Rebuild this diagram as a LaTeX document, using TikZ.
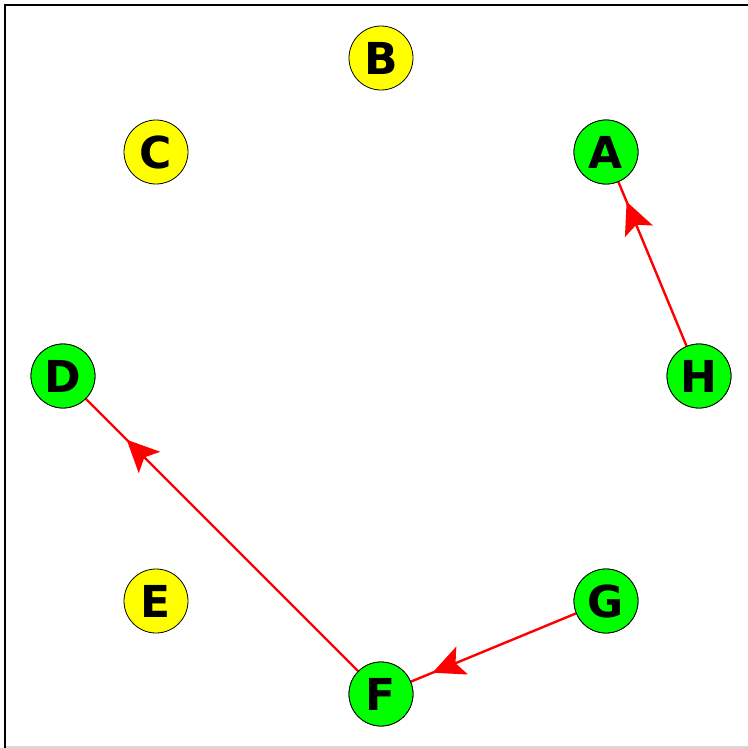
\documentclass[tikz,border=0pt]{standalone}
\usepackage{fontspec}
\setmainfont{DejaVu Sans}
\usetikzlibrary{arrows.meta, decorations.markings}
\definecolor{gVisited}{HTML}{00FF00}
\definecolor{gOpen}{HTML}{FFFF00}
\definecolor{gEdge}{HTML}{FF0000}
\tikzset{
  vertex/.style={
    draw=black, circle, line width=0.8pt, minimum size=64pt, inner sep=0pt,
    font=\fontsize{44}{44}\selectfont\bfseries
  },
  seen/.style={vertex, fill=gVisited},
  unseen/.style={vertex, fill=gOpen},
  link/.style={
    draw=gEdge, line width=2.4pt,
    postaction={decorate, decoration={markings,
      mark=at position #1 with {\arrow{Stealth[length=32pt, width=30pt, inset=7pt]}}}}
  },
  link/.default=0.85
}

\begin{document}
\begin{tikzpicture}[x=1pt, y=-1pt]
  \useasboundingbox (0,0) rectangle (748,748);
  \fill[white] (0,0) rectangle (748,748);
  % frame
  \draw[black, line width=2.5pt] (5,748) -- (5,5) -- (748,5);
  \draw[black!15, line width=1.5pt] (6,747) -- (748,747);

  % edges first, circles on top
  \coordinate (pA) at (606,152);
  \coordinate (pD) at (63,376);
  \coordinate (pF) at (381,694);
  \coordinate (pG) at (606,601);
  \coordinate (pH) at (699,376);

  \node[seen] (A) at (pA) {A};
  \node[unseen] (B) at (381,58) {B};
  \node[unseen] (C) at (156,152) {C};
  \node[seen] (D) at (pD) {D};
  \node[unseen] (E) at (156,601) {E};
  \node[seen] (F) at (pF) {F};
  \node[seen] (G) at (pG) {G};
  \node[seen] (H) at (pH) {H};

  \draw[link=0.85] (F) -- (D);
  \draw[link=0.88] (H) -- (A);
  \draw[link=0.87] (G) -- (F);

  % redraw circles over edge ends
  \node[seen] at (pA) {A};
  \node[seen] at (pD) {D};
  \node[seen] at (pF) {F};
  \node[seen] at (pG) {G};
  \node[seen] at (pH) {H};
\end{tikzpicture}
\end{document}
